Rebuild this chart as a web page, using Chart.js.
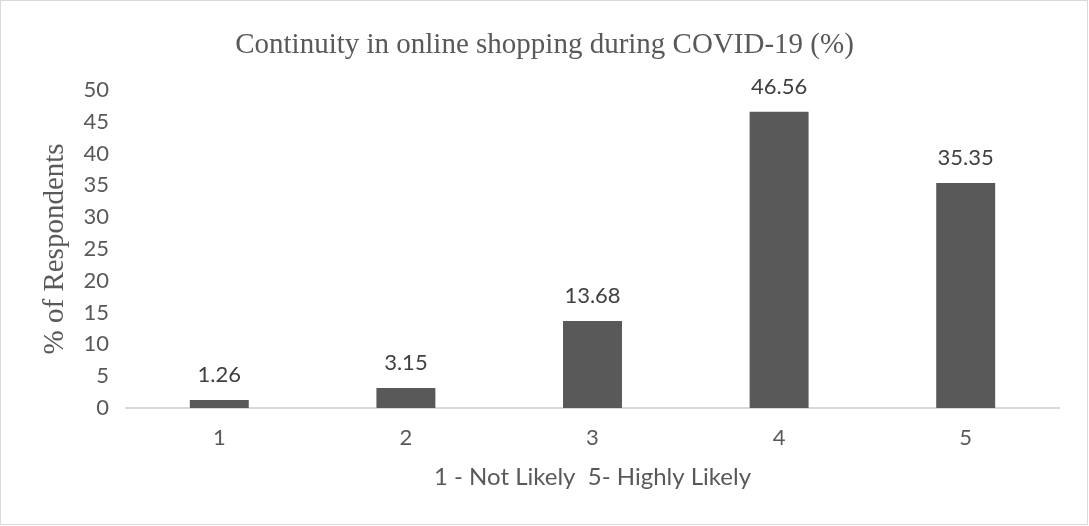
<!DOCTYPE html>
<html lang="en">
<head>
  <meta charset="UTF-8">
  <title>Continuity in online shopping during COVID-19</title>
  <script src="https://cdn.jsdelivr.net/npm/chart.js"></script>
  <style>
    body {
      margin: 0;
      background: #fff;
    }
    .wrap {
      width: 1089px;
      height: 526px;
    }
  </style>
</head>
<body>
  <div class="wrap">
    <canvas id="shopChart" width="1089" height="526"></canvas>
  </div>

  <script>
    const categories = ['1', '2', '3', '4', '5'];
    const percentages = [1.26, 3.15, 13.68, 46.56, 35.35];
    const yTicks = [0, 5, 10, 15, 20, 25, 30, 35, 40, 45, 50];

    const serif = "'Liberation Serif', 'DejaVu Serif', serif";
    const sans = "Lato, 'Open Sans', sans-serif";

    // value text above each bar
    const barLabels = {
      id: 'barLabels',
      afterDatasetsDraw(chart) {
        const ctx = chart.ctx;
        const meta = chart.getDatasetMeta(0);
        ctx.save();
        ctx.font = `22px ${sans}`;
        ctx.fillStyle = '#404040';
        ctx.textAlign = 'center';
        ctx.textBaseline = 'middle';
        meta.data.forEach((bar, i) => {
          ctx.fillText(percentages[i].toFixed(2), bar.x, bar.y - 25);
        });
        ctx.restore();
      }
    };

    // thin frame around the whole chart
    const frame = {
      id: 'frame',
      beforeDraw(chart) {
        const ctx = chart.ctx;
        ctx.save();
        ctx.fillStyle = '#fff';
        ctx.fillRect(0, 0, chart.width, chart.height);
        ctx.strokeStyle = '#d9d9d9';
        ctx.lineWidth = 1;
        ctx.strokeRect(0.5, 0.5, chart.width - 2, chart.height - 2);
        ctx.restore();
      }
    };

    new Chart(document.getElementById('shopChart'), {
      type: 'bar',
      data: {
        labels: categories,
        datasets: [{
          data: percentages,
          backgroundColor: '#595959',
          categoryPercentage: 1,
          barPercentage: 0.316
        }]
      },
      options: {
        responsive: false,
        animation: false,
        layout: { padding: 0 },
        plugins: {
          legend: { display: false },
          tooltip: { enabled: false },
          title: {
            display: true,
            text: 'Continuity in online shopping during COVID-19 (%)',
            color: '#595959',
            font: { family: serif, size: 29, weight: 'normal' },
            padding: { top: 28, bottom: 27 }
          }
        },
        scales: {
          x: {
            grid: { display: false, drawTicks: false },
            border: { display: true, color: '#d9d9d9', width: 2 },
            ticks: {
              color: '#595959',
              font: { family: sans, size: 22 },
              padding: 17
            },
            title: {
              display: true,
              text: '1 - Not Likely  5- Highly Likely',
              color: '#595959',
              font: { family: sans, size: 24 },
              padding: { top: 0, bottom: 34 }
            },
            afterFit(scale) { scale.height = 118; }
          },
          y: {
            min: 0,
            max: 50,
            grid: { display: false, drawTicks: false },
            border: { display: false },
            afterBuildTicks(scale) {
              scale.ticks = yTicks.map(v => ({ value: v }));
            },
            ticks: {
              color: '#595959',
              font: { family: sans, size: 22 },
              padding: 17
            },
            title: {
              display: true,
              text: '% of Respondents',
              color: '#595959',
              font: { family: serif, size: 29, weight: 'normal' },
              padding: { top: 38, bottom: 0 }
            },
            afterFit(scale) { scale.width = 126; }
          },
          // empty right gutter so the title stays centred on the canvas
          gutter: {
            position: 'right',
            grid: { display: false, drawTicks: false },
            border: { display: false },
            ticks: { display: false },
            afterFit(scale) { scale.width = 30; }
          }
        }
      },
      plugins: [frame, barLabels]
    });
  </script>
</body>
</html>
